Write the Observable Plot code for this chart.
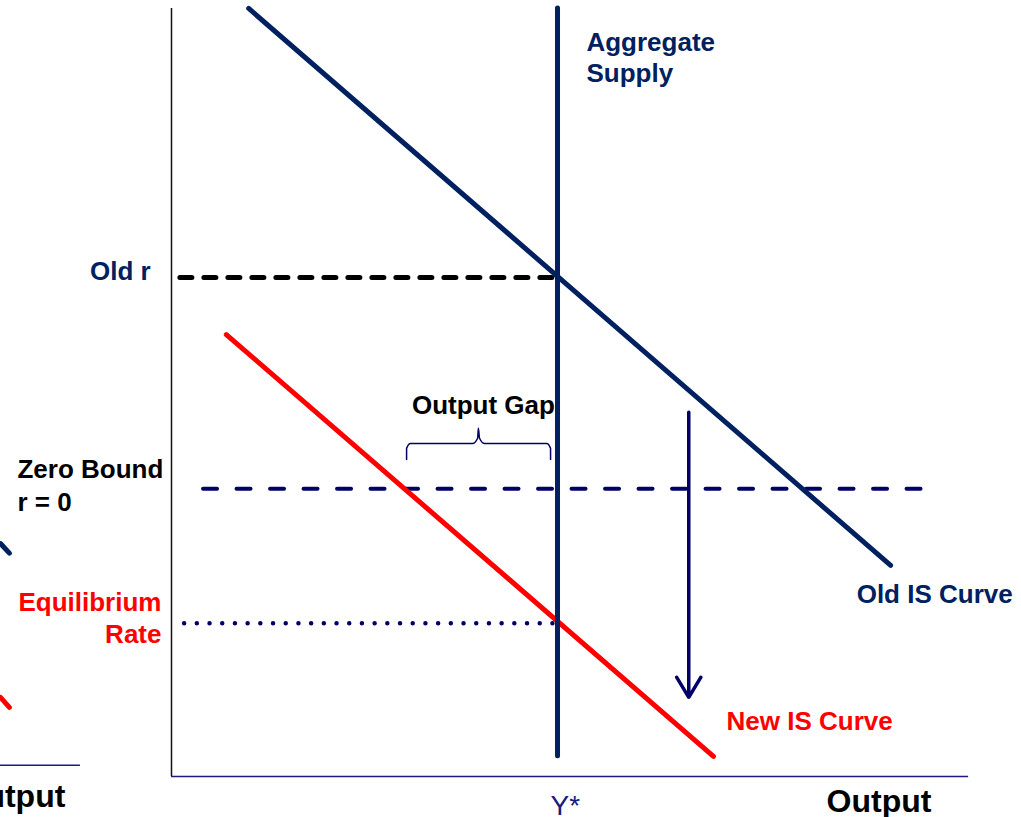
<!DOCTYPE html>
<html>
<head>
<meta charset="utf-8">
<script src="https://cdn.jsdelivr.net/npm/d3@7"></script>
<script src="https://cdn.jsdelivr.net/npm/@observablehq/plot@0.6"></script>
<style>
  body { margin: 0; background: white; }
</style>
</head>
<body>
<div id="chart"></div>
<script>
// output on x (Y* = 100), real rate r on y (zero bound = 0)
const yStar = 100
const oldR = 4
const zeroBound = 0.03
const eqRate = -2.5

const oldIS = [{output: 20, r: 9.06}, {output: 186.3, r: -1.41}]
const newIS = [{output: 14.2, r: 2.93}, {output: 140.4, r: -5.0}]
const supplyTop = 9.06
const supplyBottom = -5.0

const oldRLine = [2.3, yStar]       // output span of the old r guide
const zeroLine = [8.3, 195.3]       // output span of the zero bound
const eqLine = [3.4, yStar]         // output span of the equilibrium rate guide

const shiftArrow = {output: 134, from: 1.47, to: -3.89}

// the curly brace over the output gap
const brace = [
  [60.9, 0.58], [60.9, 0.79], [61.9, 0.88], [78.0, 0.88], [79.3, 0.98], [79.5, 1.17],
  [79.8, 0.98], [81.1, 0.88], [97.2, 0.88], [98.2, 0.79], [98.2, 0.58]
].map(([output, r]) => ({output, r}))

const axisTop = 9.06
const axisBottom = -5.38
const axisRight = 206.5

// bits of the neighbouring panel that spill in from the left
const leftAxis = {r: -5.17, x1: -44.3, x2: -23.6}
const leftNavy = [{output: -44.3, r: -1.0}, {output: -42, r: -1.18}]
const leftRed = [{output: -44.3, r: -3.89}, {output: -42, r: -4.08}]

const navy = '#002060'
const darkBlue = '#000066'
const red = '#ff0000'

function label(txt, x, y, opts) {
  return Plot.text([txt], {
    x: x,
    y: y,
    text: d => d,
    fontSize: 26,
    fontWeight: 'bold',
    lineHeight: 1.15,
    ...opts
  })
}

const chart = Plot.plot({
  width: 1021,
  height: 817,
  margin: 0,
  x: {domain: [-44.3, 220.2], axis: null},
  y: {domain: [-6.15, 9.21], axis: null},
  style: {
    fontFamily: '"Liberation Sans", Arial, sans-serif',
    background: 'white'
  },
  marks: [
    // axes
    Plot.ruleX([0], {y1: axisTop, y2: axisBottom, stroke: '#111', strokeWidth: 1.5}),
    Plot.ruleY([axisBottom], {x1: 0, x2: axisRight, stroke: '#1a1a80', strokeWidth: 1.5}),

    // left panel leftovers
    Plot.ruleY([leftAxis.r], {x1: leftAxis.x1, x2: leftAxis.x2, stroke: '#1a1a80', strokeWidth: 1.5}),
    Plot.line(leftNavy, {x: 'output', y: 'r', stroke: navy, strokeWidth: 5, strokeLinecap: 'round'}),
    Plot.line(leftRed, {x: 'output', y: 'r', stroke: red, strokeWidth: 5, strokeLinecap: 'round'}),

    // guides
    Plot.ruleY([oldR], {x1: oldRLine[0], x2: oldRLine[1], stroke: 'black', strokeWidth: 5,
      strokeDasharray: '12,12', strokeLinecap: 'round'}),
    Plot.ruleY([zeroBound], {x1: zeroLine[0], x2: zeroLine[1], stroke: darkBlue, strokeWidth: 4,
      strokeDasharray: '14,19.5', strokeLinecap: 'round'}),
    Plot.ruleY([eqRate], {x1: eqLine[0], x2: eqLine[1], stroke: darkBlue, strokeWidth: 4.5,
      strokeDasharray: '0,12.7', strokeLinecap: 'round'}),

    // curves
    Plot.line(newIS, {x: 'output', y: 'r', stroke: red, strokeWidth: 5, strokeLinecap: 'round'}),
    Plot.ruleX([yStar], {y1: supplyTop, y2: supplyBottom, stroke: navy, strokeWidth: 5, strokeLinecap: 'round'}),
    Plot.line(oldIS, {x: 'output', y: 'r', stroke: navy, strokeWidth: 5, strokeLinecap: 'round'}),

    // shift arrow and brace
    Plot.arrow([shiftArrow], {x: 'output', y1: 'from', y2: 'to', stroke: darkBlue, strokeWidth: 3.5,
      headLength: 10, headAngle: 62}),
    Plot.line(brace, {x: 'output', y: 'r', stroke: darkBlue, strokeWidth: 1.5, curve: 'monotone-x'}),

    // labels
    label('Aggregate\nSupply', 107.5, 8.16, {textAnchor: 'start', fill: navy, lineHeight: 1.2}),
    label('Old r', -5.4, 4.13, {textAnchor: 'end', fill: navy}),
    label('Output Gap', 80.8, 1.62, {fill: 'black'}),
    label('Zero Bound\nr = 0', -39.9, 0.13, {textAnchor: 'start', fill: 'black', lineHeight: 1.27}),
    label('Equilibrium\nRate', -2.6, -2.37, {textAnchor: 'end', fill: red, lineHeight: 1.23}),
    label('Old IS Curve', 177.5, -1.94, {textAnchor: 'start', fill: navy}),
    label('New IS Curve', 143.8, -4.32, {textAnchor: 'start', fill: red}),
    label('Y*', 102, -5.9, {fontWeight: 'normal', fontSize: 28, fill: '#1a1a80'}),
    label('Output', 169.7, -5.83, {textAnchor: 'start', fontSize: 32, fill: 'black'}),
    label('Output', -27.5, -5.73, {textAnchor: 'end', fontSize: 32, fill: 'black'})
  ]
})

d3.select('#chart').append(() => chart)
</script>
</body>
</html>
